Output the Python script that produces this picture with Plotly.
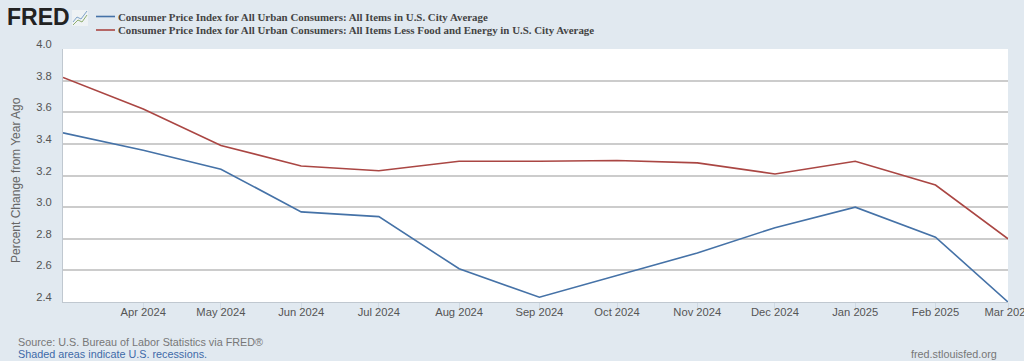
import plotly.graph_objects as go

months = ["2024-03-01","2024-04-01","2024-05-01","2024-06-01","2024-07-01","2024-08-01","2024-09-01",
          "2024-10-01","2024-11-01","2024-12-01","2025-01-01","2025-02-01","2025-03-01"]
tick_months = months[1:]
tick_labels = ["Apr 2024","May 2024","Jun 2024","Jul 2024","Aug 2024","Sep 2024","Oct 2024",
               "Nov 2024","Dec 2024","Jan 2025","Feb 2025","Mar 2025"]
cpi_all = [3.47,3.36,3.24,2.97,2.94,2.61,2.43,2.57,2.71,2.87,3.00,2.81,2.40]
cpi_core = [3.82,3.62,3.39,3.26,3.23,3.29,3.29,3.295,3.28,3.21,3.29,3.14,2.80]
name_all = "Consumer Price Index for All Urban Consumers: All Items in U.S. City Average"
name_core = "Consumer Price Index for All Urban Consumers: All Items Less Food and Energy in U.S. City Average"
BLUE = "#4572a7"; RED = "#aa4643"; BG = "#e1e9f0"

fig = go.Figure()
fig.add_trace(go.Scatter(x=months, y=cpi_all, mode="lines", name=name_all, line=dict(color=BLUE, width=1.6), cliponaxis=False))
fig.add_trace(go.Scatter(x=months, y=cpi_core, mode="lines", name=name_core, line=dict(color=RED, width=1.6), cliponaxis=False))

W, H = 1024, 361
L, R, T, B = 63, 1008, 49, 302
def px(x): return (x - L) / (R - L)
def py(y): return (B - y) / (B - T)

def note(x, y, text, size, color, family="Liberation Sans", anchor="left", angle=0):
    fig.add_annotation(xref="paper", yref="paper", x=px(x), y=py(y), text=text, showarrow=False,
                       xanchor=anchor, yanchor="middle", align="left", borderpad=0, textangle=angle,
                       font=dict(size=size, color=color, family=family))

note(6, 17, "<b>FRED</b>", 23, "#222222", "Liberation Sans")
note(117, 16.5, "<b>" + name_all + "</b>", 10.88, "#444444", "Liberation Serif")
note(117, 30, "<b>" + name_core + "</b>", 10.88, "#444444", "Liberation Serif")
note(17, 342, "Source: U.S. Bureau of Labor Statistics via FRED®", 10.8, "#777777")
note(17, 354, "Shaded areas indicate U.S. recessions.", 10.8, "#3e6aa8")
note(998, 354, "fred.stlouisfed.org", 10.8, "#777777", anchor="right")
note(16, 180, "Percent Change from Year Ago", 12, "#666666", anchor="center", angle=-90)

shapes = []
for y, c in ((16.5, BLUE), (30, RED)):
    shapes.append(dict(type="line", xref="paper", yref="paper", x0=px(96), x1=px(115), y0=py(y), y1=py(y),
                       line=dict(color=c, width=1.6)))
# FRED logo icon
shapes.append(dict(type="rect", xref="paper", yref="paper", x0=px(72), x1=px(88), y0=py(10), y1=py(26),
                   line=dict(width=0), fillcolor="#eef2f4"))
shapes.append(dict(type="path", xref="paper", yref="paper", line=dict(color="#7fa3c8", width=1),
                   path=f"M {px(73)} {py(22)} L {px(77)} {py(17)} L {px(81)} {py(19)} L {px(87)} {py(11)}"))
shapes.append(dict(type="path", xref="paper", yref="paper", line=dict(color="#8fae6e", width=1),
                   path=f"M {px(73)} {py(25)} L {px(78)} {py(20)} L {px(82)} {py(22)} L {px(87)} {py(15)}"))
fig.update_layout(shapes=shapes)

fig.update_layout(
    width=W, height=H, showlegend=False,
    paper_bgcolor=BG, plot_bgcolor="#ffffff",
    margin=dict(l=L, r=W - R, t=T, b=H - B, autoexpand=False),
    xaxis=dict(type="date", range=[months[0], months[-1]], tickmode="array", tickvals=tick_months, ticktext=tick_labels,
               showgrid=False, ticks="outside", ticklen=7, tickcolor="#d0dae4", tickwidth=1, ticklabelstandoff=-7,
               showline=True, linecolor="#c0c8d0", linewidth=1, zeroline=False, ticklabeloverflow="allow",
               tickfont=dict(family="Liberation Sans", size=11.2, color="#555555")),
    yaxis=dict(range=[2.4, 4.0], tickmode="array", tickvals=[2.4,2.6,2.8,3.0,3.2,3.4,3.6,3.8,4.0],
               ticktext=["2.4","2.6","2.8","3.0","3.2","3.4","3.6","3.8","4.0"],
               showgrid=True, gridcolor="#cccccc", gridwidth=1.5, zeroline=False,
               showline=True, linecolor="#c0c8d0", linewidth=1, ticks="",
               ticklabelposition="outside top", ticklabelstandoff=8,
               tickfont=dict(family="Liberation Sans", size=11.2, color="#555555")),
)
fig.write_html("out.html", config=dict(displayModeBar=False),
               post_script="document.body.style.margin='0';document.documentElement.style.overflow='hidden';"
                           "document.querySelectorAll('.ytick text').forEach(function(t){t.setAttribute('dy','3');});")
